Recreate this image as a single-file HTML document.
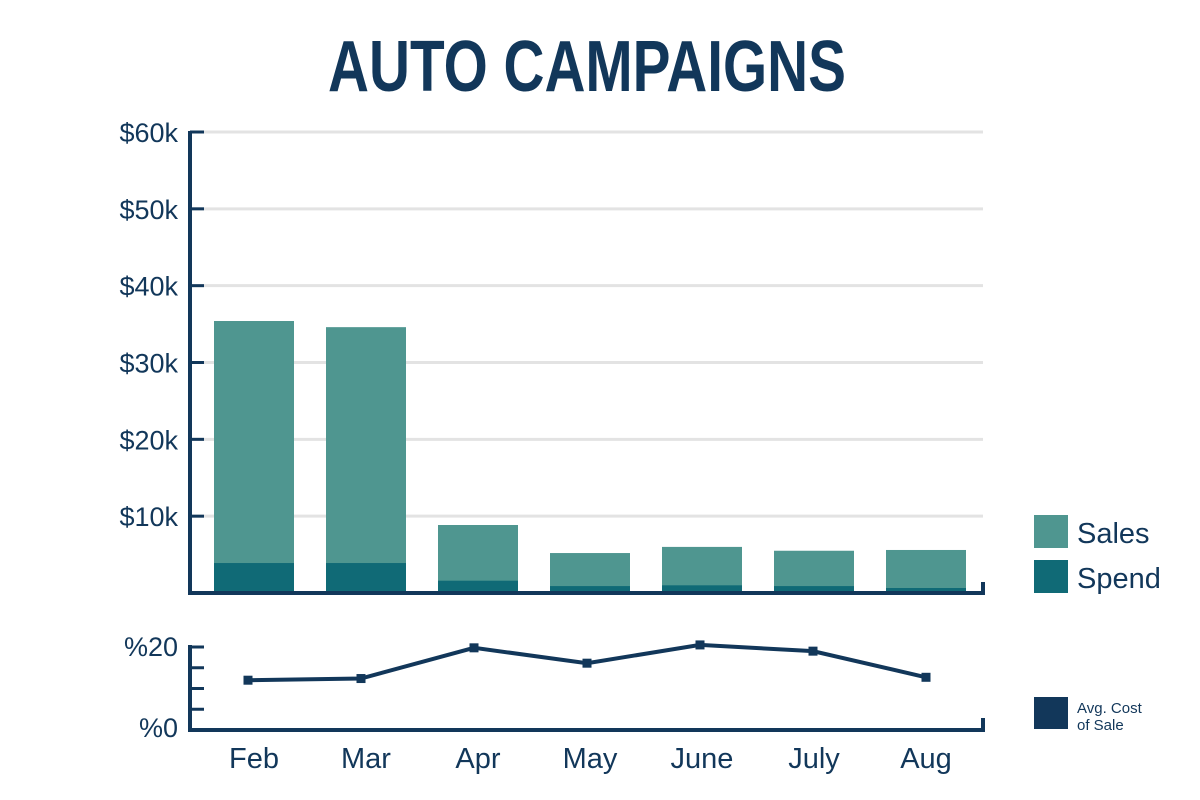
<!DOCTYPE html>
<html><head><meta charset="utf-8"><style>
body{margin:0;background:#fff;}
svg{display:block;font-family:"Liberation Sans",sans-serif;}
</style></head><body>
<svg width="1200" height="800" viewBox="0 0 1200 800">
<text x="587" y="91" text-anchor="middle" font-size="72" font-weight="bold" fill="#12375a" textLength="518" lengthAdjust="spacingAndGlyphs">AUTO CAMPAIGNS</text>
<g id="grid"></g><g id="bars"></g><g id="axes"></g><g id="line"></g><g id="labels"></g>
<rect x="1034" y="515" width="34" height="33" fill="#4f9690"/>
<text x="1077" y="543" font-size="29" fill="#12375a">Sales</text>
<rect x="1034" y="560" width="34" height="33" fill="#106a76"/>
<text x="1077" y="588" font-size="29" fill="#12375a">Spend</text>
<rect x="1034" y="697" width="34" height="32" fill="#12375a"/>
<text x="1077" y="713" font-size="15" fill="#12375a">Avg. Cost</text>
<text x="1077" y="730" font-size="15" fill="#12375a">of Sale</text>
</svg>
<script>
const categories=["Feb","Mar","Apr","May","June","July","Aug"];
const sales=[35.4,34.6,8.85,5.2,6.0,5.5,5.6];
const spend=[3.9,3.9,1.6,0.9,1.0,0.9,0.65];
const costPct=[12.0,12.4,19.8,16.1,20.5,19.0,12.7];
const yTicks=[0,10,20,30,40,50,60];
const yTickLabels=["","$10k","$20k","$30k","$40k","$50k","$60k"];
const NS="http://www.w3.org/2000/svg";
function mk(t,a,p){const e=document.createElementNS(NS,t);for(const k in a)e.setAttribute(k,a[k]);p.appendChild(e);return e;}
const yMain=v=>593-v*(461/60);
const xBand=i=>214+i*112;
const yLow=v=>730-v*(83/20);
const xPt=i=>248+i*113;
const G=id=>document.getElementById(id);
const navy="#12375a";
yTicks.forEach((t,i)=>{
  if(t>0){const l=mk("line",{x1:190,x2:983,y1:yMain(t),y2:yMain(t),stroke:"#e3e3e3","stroke-width":3},G("grid"));
  
  }
  const tk=mk("line",{x1:190,x2:204,y1:yMain(t),y2:yMain(t),stroke:navy,"stroke-width":3},G("axes"));
  
  
  if(yTickLabels[i]){const tx=mk("text",{x:178,y:yMain(t)+10,"text-anchor":"end","font-size":27,fill:navy},G("labels"));tx.textContent=yTickLabels[i];
  
  }
});
categories.forEach((c,i)=>{
  const s=mk("rect",{x:xBand(i),y:yMain(sales[i]),width:80,height:yMain(0)-yMain(sales[i]),fill:"#4f9690"},G("bars"));
  
  
  const p=mk("rect",{x:xBand(i),y:yMain(spend[i]),width:80,height:yMain(0)-yMain(spend[i]),fill:"#106a76"},G("bars"));
  
  
  const tx=mk("text",{x:xBand(i)+40,y:768,"text-anchor":"middle","font-size":29,fill:navy},G("labels"));tx.textContent=c;
  
  
});
const ax=mk("path",{d:"M190 131 V593 H983 V582",fill:"none",stroke:navy,"stroke-width":4},G("axes"));


const ax2=mk("path",{d:"M190 645 V730 H983 V718",fill:"none",stroke:navy,"stroke-width":4},G("axes"));


[0,5,10,15,20].forEach(v=>{const t=mk("line",{x1:190,x2:204,y1:yLow(v),y2:yLow(v),stroke:navy,"stroke-width":3},G("axes"));
  
  });
[["%20",20],["%0",0]].forEach(([l,v])=>{const tx=mk("text",{x:178,y:yLow(v)+(v?9:7),"text-anchor":"end","font-size":27,fill:navy},G("labels"));tx.textContent=l;
  
  });
const ln=mk("polyline",{points:costPct.map((v,i)=>xPt(i)+","+yLow(v)).join(" "),fill:"none",stroke:navy,"stroke-width":4},G("line"));


costPct.forEach((v,i)=>{const m=mk("rect",{x:xPt(i)-4.5,y:yLow(v)-4.5,width:9,height:9,fill:navy},G("line"));
  
  });
</script>
</body></html>
